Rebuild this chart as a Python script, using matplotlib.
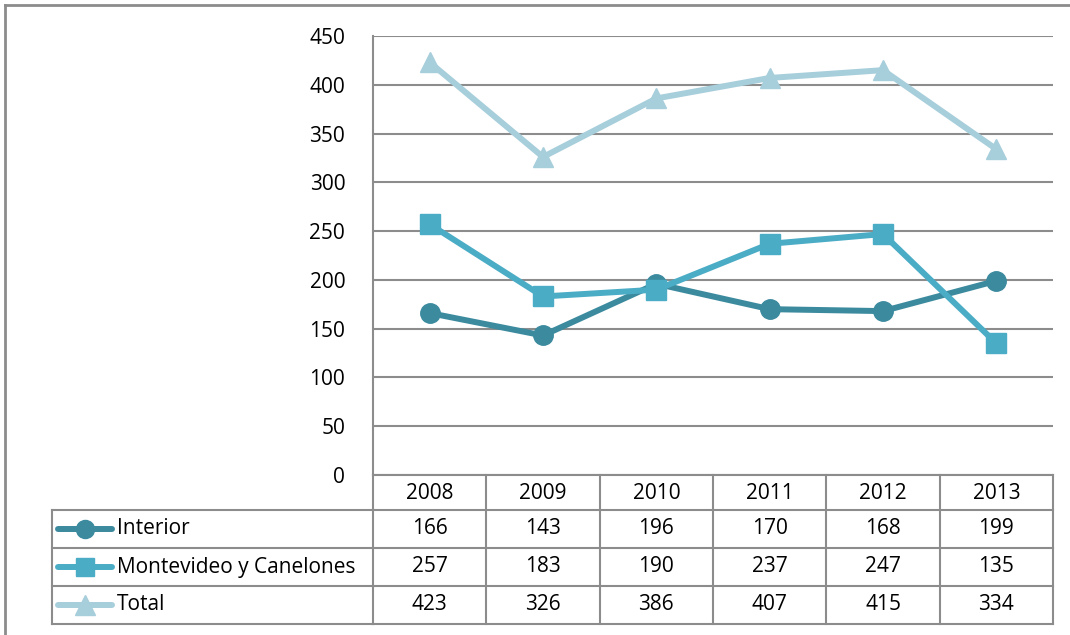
import matplotlib.pyplot as plt
from matplotlib.lines import Line2D
from matplotlib.transforms import blended_transform_factory

plt.rcParams["font.family"] = ["Open Sans", "DejaVu Sans"]

years = ["2008", "2009", "2010", "2011", "2012", "2013"]
interior = [166, 143, 196, 170, 168, 199]
montevideo = [257, 183, 190, 237, 247, 135]
total = [423, 326, 386, 407, 415, 334]

series = [
    ("Interior", interior, "#3b8a9e", "o", 14),
    ("Montevideo y Canelones", montevideo, "#4bacc6", "s", 14),
    ("Total", total, "#a7cedb", "^", 15),
]

W, H = 1070, 635
GRID = "#8c8c8c"
FS = 15

fig = plt.figure(figsize=(W / 100, H / 100), dpi=100)


def fx(px):
    return px / W


def fy(py):
    return 1 - py / H


ax = fig.add_axes([fx(373), fy(475), fx(1053) - fx(373), fy(36) - fy(475)])
x = list(range(len(years)))
for name, vals, col, mk, ms in series:
    ax.plot(x, vals, color=col, lw=4.3, marker=mk, ms=ms, clip_on=False, zorder=3)

ax.set_xlim(-0.5, len(years) - 0.5)
ax.set_ylim(0, 450)
ax.set_yticks(range(0, 451, 50))
ax.set_xticks([])
ax.tick_params(axis="y", length=0, pad=20, labelsize=FS)
ax.grid(axis="y", color=GRID, lw=1.5)
ax.set_axisbelow(True)
for s in ["top", "right", "bottom"]:
    ax.spines[s].set_visible(False)
ax.spines["left"].set_color(GRID)
ax.spines["left"].set_linewidth(1.5)

# data table below the plot
tr = blended_transform_factory(ax.transData, fig.transFigure)
rows_y = [475, 510, 548, 586, 624]
n = len(years)

def hline(x0, x1, py, transform):
    fig.add_artist(Line2D([x0, x1], [fy(py), fy(py)], color=GRID, lw=1.5,
                          transform=transform))

hline(-0.5, n - 0.5, rows_y[0], tr)
for py in rows_y[1:]:
    hline(-0.5, n - 0.5, py, tr)
    fig.add_artist(Line2D([fx(52), fx(373)], [fy(py), fy(py)], color=GRID, lw=1.5,
                          transform=fig.transFigure))
for i in range(n + 1):
    fig.add_artist(Line2D([i - 0.5, i - 0.5], [fy(rows_y[0]), fy(rows_y[-1])],
                          color=GRID, lw=1.5, transform=tr))
fig.add_artist(Line2D([fx(52), fx(52)], [fy(rows_y[1]), fy(rows_y[-1])],
                      color=GRID, lw=1.5, transform=fig.transFigure))

for i, yr in enumerate(years):
    fig.text(i, fy((rows_y[0] + rows_y[1]) / 2 + 1), yr, transform=tr,
             ha="center", va="center", fontsize=FS)

for r, (name, vals, col, mk, ms) in enumerate(series):
    cy = fy((rows_y[r + 1] + rows_y[r + 2]) / 2)
    for i, v in enumerate(vals):
        fig.text(i, cy, str(v), transform=tr, ha="center", va="center", fontsize=FS)
    fig.add_artist(Line2D([fx(58), fx(112)], [cy, cy], color=col, lw=4.3,
                          solid_capstyle="round", transform=fig.transFigure))
    fig.add_artist(Line2D([fx(85)], [cy], color=col, marker=mk, ms=ms - 1,
                          lw=0, transform=fig.transFigure))
    fig.text(fx(117), cy, name, ha="left", va="center", fontsize=FS)

# outer chart border (left and top visible)
fig.add_artist(Line2D([fx(5), fx(5)], [fy(5), 0], color=GRID, lw=2,
                      transform=fig.transFigure))
fig.add_artist(Line2D([fx(5), 1], [fy(5), fy(5)], color=GRID, lw=2,
                      transform=fig.transFigure))

fig.savefig("out.png", dpi=100)
